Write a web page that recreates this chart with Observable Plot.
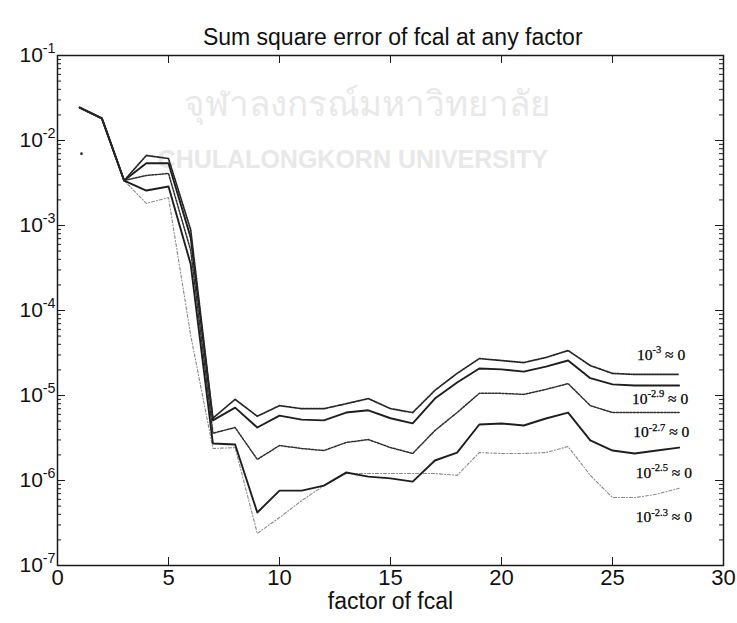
<!DOCTYPE html>
<html><head><meta charset="utf-8">
<script src="https://cdn.jsdelivr.net/npm/d3@7"></script>
<script src="https://cdn.jsdelivr.net/npm/@observablehq/plot@0.6"></script>
<style>body{margin:0;background:#fff} svg{display:block}</style>
</head><body><div id="chart"></div>
<script>
const factors = [1,2,3,4,5,6,7,8,9,10,11,12,13,14,15,16,17,18,19,20,21,22,23,24,25,26,27,28];
const sse_e30 = [0.0244,0.0182,0.00338,0.00667,0.00614,8.9e-4,5.4e-6,9.0e-6,5.7e-6,7.6e-6,7.0e-6,7.0e-6,8.0e-6,9.2e-6,7.0e-6,6.3e-6,1.15e-5,1.82e-5,2.72e-5,2.58e-5,2.44e-5,2.8e-5,3.38e-5,2.25e-5,1.82e-5,1.77e-5,1.77e-5,1.77e-5];
const sse_e29 = [0.0244,0.0182,0.00338,0.0054,0.0054,7.2e-4,5.1e-6,7.2e-6,4.2e-6,5.8e-6,5.2e-6,5.1e-6,6.3e-6,6.7e-6,5.4e-6,4.7e-6,9.2e-6,1.42e-5,2.08e-5,2.03e-5,1.91e-5,2.19e-5,2.58e-5,1.6e-5,1.35e-5,1.31e-5,1.31e-5,1.31e-5];
const sse_e27 = [0.0244,0.0182,0.00338,0.00388,0.00409,5.1e-4,3.6e-6,4.2e-6,1.77e-6,2.58e-6,2.38e-6,2.25e-6,2.8e-6,3.03e-6,2.44e-6,2.08e-6,3.87e-6,6.3e-6,1.06e-5,1.06e-5,1.03e-5,1.18e-5,1.38e-5,7.6e-6,6.3e-6,6.3e-6,6.3e-6,6.3e-6];
const sse_e25 = [0.0244,0.0182,0.00338,0.00258,0.00288,3.5e-4,2.72e-6,2.65e-6,4.2e-7,7.6e-7,7.6e-7,8.7e-7,1.24e-6,1.11e-6,1.06e-6,9.7e-7,1.72e-6,2.13e-6,4.56e-6,4.69e-6,4.44e-6,5.36e-6,6.3e-6,2.96e-6,2.25e-6,2.08e-6,2.25e-6,2.44e-6];
const sse_e23 = [0.0244,0.0182,0.00338,0.00182,0.00213,5.1e-5,2.38e-6,2.44e-6,2.38e-7,3.67e-7,5.8e-7,8.7e-7,1.21e-6,1.21e-6,1.21e-6,1.21e-6,1.21e-6,1.15e-6,2.13e-6,2.08e-6,2.08e-6,2.13e-6,2.51e-6,1.15e-6,6.3e-7,6.3e-7,6.9e-7,8.1e-7];
const strayPoint = [{x: 1.08, y: 7.0e-3}];

const seriesLabels = ["10^{-3} ≈ 0", "10^{-2.9} ≈ 0", "10^{-2.7} ≈ 0", "10^{-2.5} ≈ 0", "10^{-2.3} ≈ 0"];
const labelX = [26.1, 25.88, 25.93, 26.05, 26.05];
const labelY = [2.96e-5, 9.2e-6, 3.67e-6, 1.21e-6, 3.67e-7];

const xTicks = [0, 5, 10, 15, 20, 25, 30];
const yTicks = [1e-7, 1e-6, 1e-5, 1e-4, 1e-3, 1e-2, 1e-1];
const yTickLabels = ["10^{-7}", "10^{-6}", "10^{-5}", "10^{-4}", "10^{-3}", "10^{-2}", "10^{-1}"];
const titleText = "Sum square error of fcal at any factor";
const xLabelText = "factor of fcal";
const watermarkThai = "จุฬาลงกรณ์มหาวิทยาลัย";
const watermarkEng = "CHULALONGKORN UNIVERSITY";

const minorTicks = [];
for (let k = -7; k < -1; k++) for (let m = 2; m <= 9; m++) minorTicks.push(m * Math.pow(10, k));

const W = 737, H = 623, ML = 57, MR = 14, MT = 55, MB = 58;
const FW = W - ML - MR, FH = H - MT - MB;

const mk = (arr) => factors.map((f, i) => ({x: f, y: arr[i]})).filter(d => d.y != null);
const sans = "Liberation Sans, Arial, Helvetica, sans-serif";
const serif = "Liberation Serif, Times New Roman, serif";

const chart = Plot.plot({
  width: W, height: H,
  marginLeft: ML, marginRight: MR, marginTop: MT, marginBottom: MB,
  style: {fontFamily: sans, background: "#fff", color: "#1a1a1a"},
  x: {domain: [0, 30], axis: null},
  y: {type: "log", domain: [1e-7, 1e-1], axis: null},
  marks: [
    Plot.text([watermarkThai], {x: () => 13.95, frameAnchor: "top", dy: 36, text: d => d, fontSize: 35, fill: "#e8e8e8", fontFamily: "Noto Sans, DejaVu Sans, sans-serif"}),
    Plot.text([watermarkEng], {x: () => 13.3, frameAnchor: "top", dy: 95, text: d => d, fontSize: 25, fontWeight: "bold", fill: "#e8e8e8"}),
    Plot.frame({stroke: "#1a1a1a", strokeWidth: 1.5}),
    Plot.tickY(yTicks, {y: d => d, stroke: "#1a1a1a", insetRight: FW - 8}),
    Plot.tickY(yTicks, {y: d => d, stroke: "#1a1a1a", insetLeft: FW - 8}),
    Plot.tickY(minorTicks, {y: d => d, stroke: "#1a1a1a", insetRight: FW - 4}),
    Plot.tickY(minorTicks, {y: d => d, stroke: "#1a1a1a", insetLeft: FW - 4}),
    Plot.tickX(xTicks, {x: d => d, stroke: "#1a1a1a", insetTop: FH - 8}),
    Plot.tickX(xTicks, {x: d => d, stroke: "#1a1a1a", insetBottom: FH - 8}),
    Plot.line(mk(sse_e23), {x: "x", y: "y", stroke: "#888", strokeWidth: 1.1, strokeDasharray: "3,2,1,2"}),
    Plot.line(mk(sse_e25), {x: "x", y: "y", stroke: "#1e1e1e", strokeWidth: 1.9}),
    Plot.line(mk(sse_e27), {x: "x", y: "y", stroke: "#2e2e2e", strokeWidth: 1.5, strokeDasharray: "2,1.4"}),
    Plot.line(mk(sse_e29), {x: "x", y: "y", stroke: "#1e1e1e", strokeWidth: 1.9}),
    Plot.line(mk(sse_e30), {x: "x", y: "y", stroke: "#262626", strokeWidth: 1.7, strokeDasharray: "1.5,1.2"}),
    Plot.dot(strayPoint, {x: "x", y: "y", r: 1.3, fill: "#222", stroke: null}),
    Plot.text(seriesLabels, {x: (d, i) => labelX[i], y: (d, i) => labelY[i], text: d => d, textAnchor: "start", fontSize: 15.5, fontFamily: serif, fill: "#000", stroke: "#000", strokeWidth: 0.25}),
    Plot.text(yTicks, {frameAnchor: "left", y: d => d, text: (d, i) => yTickLabels[i], textAnchor: "end", dx: -2, fontSize: 21, fill: "#111"}),
    Plot.text(xTicks, {x: d => d, frameAnchor: "bottom", dy: 19, text: d => String(d), fontSize: 22, fill: "#111"}),
    Plot.text([xLabelText], {x: () => 15, frameAnchor: "bottom", dy: 43, text: d => d, fontSize: 23, fill: "#111"}),
    Plot.text([titleText], {x: () => 15.1, frameAnchor: "top", dy: -27, text: d => d, fontSize: 23, fill: "#111"})
  ]
});

d3.select(chart).selectAll("text").each(function () {
  const t = this.textContent;
  const m = t.match(/^(.*?)\^\{(.*?)\}(.*)$/);
  if (!m) return;
  let fs = parseFloat(this.getAttribute("font-size"));
  if (!fs && this.parentNode) fs = parseFloat(this.parentNode.getAttribute("font-size"));
  if (!fs) fs = 12;
  const sel = d3.select(this);
  sel.text(null);
  sel.append("tspan").text(m[1]);
  const up = 0.45 * fs;
  sel.append("tspan").attr("dy", -up).attr("font-size", 0.68 * fs).text(m[2]);
  if (m[3]) sel.append("tspan").attr("dy", up).text(m[3]);
});

document.getElementById("chart").appendChild(chart);
</script>
</body></html>
